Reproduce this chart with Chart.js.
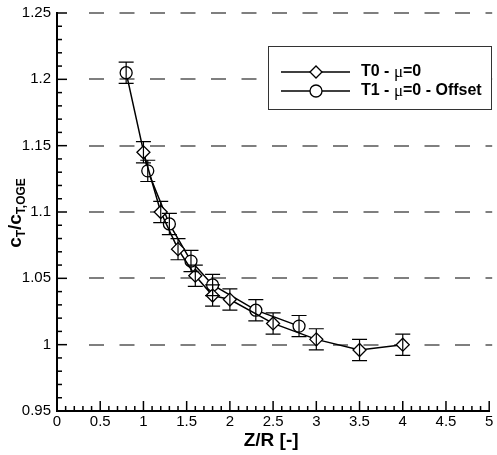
<!DOCTYPE html>
<html>
<head>
<meta charset="utf-8">
<script src="https://cdn.jsdelivr.net/npm/chart.js@4.4.1/dist/chart.umd.min.js"></script>
<style>
  html, body { margin: 0; padding: 0; background: #fff; }
</style>
</head>
<body>
<canvas id="myChart" width="497" height="455"></canvas>
<script>
// data
const t0Z   = [1.0, 1.2, 1.4, 1.6, 1.8, 2.0, 2.5, 3.0, 3.5, 4.0];
const t0Ct  = [1.145, 1.100, 1.072, 1.052, 1.037, 1.034, 1.016, 1.004, 0.996, 1.000];
const t0Err = [0.008, 0.008, 0.008, 0.008, 0.008, 0.008, 0.008, 0.008, 0.008, 0.008];

const t1Z   = [0.8, 1.05, 1.3, 1.55, 1.8, 2.3, 2.8];
const t1Ct  = [1.205, 1.131, 1.091, 1.063, 1.045, 1.026, 1.014];
const t1Err = [0.008, 0.008, 0.008, 0.008, 0.008, 0.008, 0.008];

const xTicks = [0, 0.5, 1, 1.5, 2, 2.5, 3, 3.5, 4, 4.5, 5];
const yTicks = [0.95, 1, 1.05, 1.1, 1.15, 1.2, 1.25];

const seriesNames = [["T0 - ", "μ", "=0"], ["T1 - ", "μ", "=0 - Offset"]];
const xTitle = "Z/R [-]";

const FONT = "'Liberation Sans', Arial, Helvetica, sans-serif";
Chart.defaults.font.family = FONT;
Chart.defaults.font.size = 15;
Chart.defaults.color = "#000";

function pts(xs, ys) {
  return xs.map((x, i) => ({ x: x, y: ys[i] }));
}
function fmt(v) {
  return String(+Number(v).toFixed(2));
}

// extra drawing: dashed grid, error bars, inward ticks, legend, axis titles
const extras = {
  id: "extras",
  beforeDatasetsDraw(chart) {
    const { ctx, chartArea: a, scales } = chart;
    ctx.save();
    ctx.strokeStyle = "#555";
    ctx.lineWidth = 1.5;
    ctx.setLineDash([15, 15.5]);
    yTicks.slice(1).forEach((v) => {
      const py = Math.round(scales.y.getPixelForValue(v));
      ctx.beginPath();
      ctx.moveTo(a.left + 32, py);
      ctx.lineTo(a.right + 3, py);
      ctx.stroke();
    });
    ctx.restore();
  },
  afterDatasetsDraw(chart) {
    const { ctx, chartArea: a, scales } = chart;
    const sx = scales.x, sy = scales.y;

    // error bars
    ctx.save();
    ctx.strokeStyle = "#000";
    ctx.lineWidth = 1.2;
    [[t0Z, t0Ct, t0Err], [t1Z, t1Ct, t1Err]].forEach(([xs, ys, es]) => {
      xs.forEach((x, i) => {
        const px = sx.getPixelForValue(x);
        const top = sy.getPixelForValue(ys[i] + es[i]);
        const bot = sy.getPixelForValue(ys[i] - es[i]);
        ctx.beginPath();
        ctx.moveTo(px, top); ctx.lineTo(px, bot);
        ctx.moveTo(px - 7.5, top); ctx.lineTo(px + 7.5, top);
        ctx.moveTo(px - 7.5, bot); ctx.lineTo(px + 7.5, bot);
        ctx.stroke();
      });
    });

    // inward ticks (major + minor)
    ctx.lineWidth = 1.5;
    for (let i = 0; i <= 50; i++) {
      const px = sx.getPixelForValue(i / 10);
      const len = i % 5 === 0 ? 10 : 5;
      ctx.beginPath();
      ctx.moveTo(px, a.bottom); ctx.lineTo(px, a.bottom - len);
      ctx.stroke();
    }
    for (let i = 0; i <= 30; i++) {
      const py = sy.getPixelForValue(0.95 + i / 100);
      const len = i % 5 === 0 ? 10 : 5;
      ctx.beginPath();
      ctx.moveTo(a.left, py); ctx.lineTo(a.left + len, py);
      ctx.stroke();
    }
    ctx.restore();

    // legend box
    ctx.save();
    ctx.strokeStyle = "#333";
    ctx.lineWidth = 1;
    ctx.fillStyle = "#fff";
    ctx.fillRect(268.5, 46.5, 223, 63);
    ctx.strokeRect(268.5, 46.5, 223, 63);
    const styles = ["rectRot", "circle"];
    const rows = [72, 91];
    rows.forEach((ry, k) => {
      ctx.strokeStyle = "#000";
      ctx.lineWidth = 1.5;
      ctx.beginPath();
      ctx.moveTo(281, ry); ctx.lineTo(350, ry);
      ctx.stroke();
      ctx.fillStyle = "#fff";
      ctx.lineWidth = 1.3;
      Chart.helpers.drawPoint(ctx, { pointStyle: styles[k], radius: 6, borderWidth: 1.3, rotation: 0 }, 316, ry);
      // label
      ctx.fillStyle = "#000";
      ctx.textBaseline = "middle";
      ctx.textAlign = "left";
      let tx = 361;
      seriesNames[k].forEach((part, j) => {
        ctx.font = j === 1 ? "17px 'Liberation Serif', serif" : "bold 16px " + FONT;
        ctx.fillText(part, tx, ry + (j === 1 ? 1 : 0));
        tx += ctx.measureText(part).width;
      });
    });
    ctx.restore();

    // x title
    ctx.save();
    ctx.fillStyle = "#000";
    ctx.font = "bold 19px " + FONT;
    ctx.textAlign = "center";
    ctx.textBaseline = "alphabetic";
    ctx.fillText(xTitle, (a.left + a.right) / 2 - 2, 446);
    ctx.restore();

    // y title: c_T / c_T,OGE (rotated)
    ctx.save();
    ctx.fillStyle = "#000";
    ctx.translate(21, (a.top + a.bottom) / 2 + 1);
    ctx.rotate(-Math.PI / 2);
    ctx.textBaseline = "alphabetic";
    ctx.textAlign = "left";
    const parts = [
      ["c", "bold 19px " + FONT, 0],
      ["T", "bold 12px " + FONT, 4],
      ["/", "bold 19px " + FONT, 0],
      ["c", "bold 19px " + FONT, 0],
      ["T,OGE", "bold 12px " + FONT, 4]
    ];
    let total = 0;
    parts.forEach(([t, f]) => { ctx.font = f; total += ctx.measureText(t).width; });
    let cx = -total / 2;
    parts.forEach(([t, f, dy]) => {
      ctx.font = f;
      ctx.fillText(t, cx, dy);
      cx += ctx.measureText(t).width;
    });
    ctx.restore();
  }
};

const ctx = document.getElementById("myChart").getContext("2d");

new Chart(ctx, {
  type: "scatter",
  data: {
    datasets: [
      {
        label: "T0",
        data: pts(t0Z, t0Ct),
        showLine: true,
        borderColor: "#000",
        borderWidth: 1.5,
        pointStyle: "rectRot",
        pointRadius: 6.5,
        pointBorderWidth: 1.3,
        pointBackgroundColor: "#fff",
        pointBorderColor: "#000",
        tension: 0
      },
      {
        label: "T1",
        data: pts(t1Z, t1Ct),
        showLine: true,
        borderColor: "#000",
        borderWidth: 1.5,
        pointStyle: "circle",
        pointRadius: 6,
        pointBorderWidth: 1.3,
        pointBackgroundColor: "#fff",
        pointBorderColor: "#000",
        tension: 0
      }
    ]
  },
  options: {
    responsive: false,
    animation: false,
    layout: { padding: { left: 0, right: 3, top: 13, bottom: 0 } },
    plugins: { legend: { display: false }, tooltip: { enabled: false } },
    scales: {
      x: {
        type: "linear",
        min: 0,
        max: 5,
        afterBuildTicks: (s) => { s.ticks = xTicks.map((v) => ({ value: v })); },
        afterFit: (s) => { s.height = 44; s.paddingLeft = 0; s.paddingRight = 0; },
        grid: { display: false, drawTicks: false },
        border: { display: true, color: "#000", width: 2 },
        ticks: { padding: 2, maxRotation: 0, autoSkip: false, callback: (v) => fmt(v) }
      },
      y: {
        type: "linear",
        min: 0.95,
        max: 1.25,
        afterBuildTicks: (s) => { s.ticks = yTicks.map((v) => ({ value: v })); },
        afterFit: (s) => { s.width = 57; s.paddingTop = 0; s.paddingBottom = 0; },
        grid: { display: false, drawTicks: false },
        border: { display: true, color: "#000", width: 2 },
        ticks: { padding: 6, autoSkip: false, callback: (v) => fmt(v) }
      }
    }
  },
  plugins: [extras]
});
</script>
</body>
</html>
